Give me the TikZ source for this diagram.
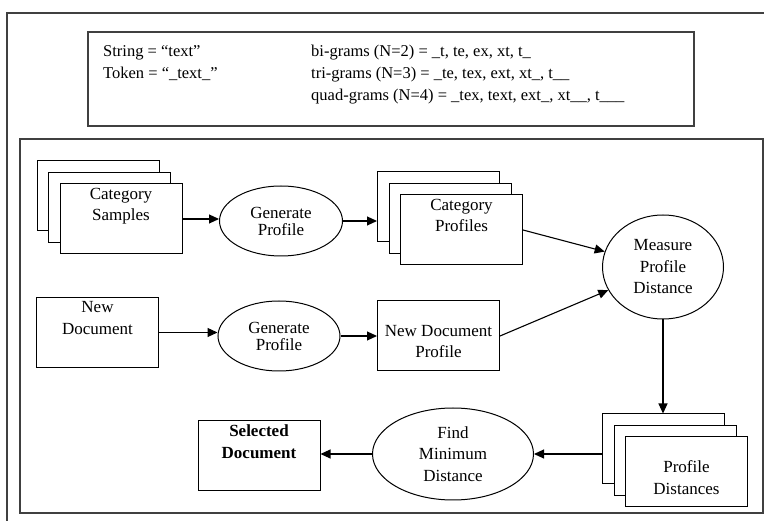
\documentclass[tikz,border=0pt]{standalone}
\usepackage{fontspec}
\setmainfont{Liberation Serif}
\usetikzlibrary{arrows.meta,shapes.geometric}

\begin{document}
\begin{tikzpicture}[x=1pt,y=-1pt,
    every node/.style={font=\rmfamily\fontsize{17}{21.5}\selectfont},
    frame/.style={draw=black!75,line width=1.3pt},
    sheet/.style={draw,fill=white,line width=1pt,minimum width=122pt,minimum height=70pt,inner sep=0pt},
    toptext/.style={execute at begin node={\begin{minipage}[c][62pt][t]{116pt}\centering},
                    execute at end node={\end{minipage}}},
    lowtext/.style={execute at begin node={\begin{minipage}[c][62pt][t]{116pt}\centering\vspace*{20pt}},
                    execute at end node={\end{minipage}}},
    oval/.style={draw,ellipse,line width=1pt,inner sep=0pt,align=center},
    gramtext/.style={anchor=base west,inner sep=0pt,font=\rmfamily\fontsize{16.5}{20}\selectfont},
    arr/.style={-{Triangle[length=10pt,width=9pt]},line width=1.1pt}]
  \clip (0,0) rectangle (764,521);

  % frames
  \draw[frame] (7,13) rectangle (790,540);
  \draw[frame] (88,32) rectangle (694,126);
  \draw[frame] (20,139) rectangle (763,513);

  % n-gram legend
  \node[gramtext] (str) at (103,57) {String = “text”};
  \node[gramtext] (tok) at (103,79) {Token = “\_text\_”};
  \foreach \n/\y/\t in {bi/57/{bi-grams (N=2) = \_t, te, ex, xt, t\_},
                        tri/79/{tri-grams (N=3) = \_te, tex, ext, xt\_, t\_\_},
                        quad/101/{quad-grams (N=4) = \_tex, text, ext\_, xt\_\_, t\_\_\_}}
    \node[gramtext] (\n) at (311,\y) {\t};

  % stacked sheets behind the piles
  \foreach \n/\x/\y in {cs/121/219,cp/461.5/230,pd/686.5/472}
    \foreach \i in {2,1}
      \node[sheet] (\n\i) at (\x-11.5*\i,\y-11.5*\i) {};

  \node[sheet,toptext] (cs) at (121,219) {Category\\Samples};
  \node[sheet,toptext] (cp) at (461.5,230) {Category\\Profiles};
  \node[sheet,toptext] (nd) at (97.5,332.5) {New\\Document};
  \node[sheet,lowtext] (ndp) at (438.5,336) {New Document\\Profile};
  \node[sheet,lowtext] (pd) at (686.5,472) {Profile\\Distances};
  \node[sheet,toptext,font=\rmfamily\fontsize{17}{21.5}\selectfont\bfseries] (sd) at (259,456) {Selected\\Document};

  \node[oval,minimum width=123pt,minimum height=70pt,font=\rmfamily\fontsize{17}{17}\selectfont] (gp1) at (281,221) {Generate\\Profile};
  \node[oval,minimum width=122pt,minimum height=70pt,font=\rmfamily\fontsize{17}{17}\selectfont] (gp2) at (279,336) {Generate\\Profile};
  \node[oval,minimum width=121pt,minimum height=104pt] (mpd) at (663,267) {Measure\\Profile\\Distance};
  \node[oval,minimum width=161pt,minimum height=92pt] (fmd) at (453,454) {Find\\Minimum\\Distance};

  % flow
  \draw[arr] (cs.east) -- (cs.east -| gp1.west);
  \draw[arr] (gp1.east) -- (gp1.east -| cp2.west);
  \draw[arr] (cp.east) -- (mpd);
  \draw[arr] (nd.east) -- (nd.east -| gp2.west);
  \draw[arr] (gp2.east) -- (gp2.east -| ndp.west);
  \draw[arr] (ndp.east) -- (mpd);
  \draw[arr] (mpd.south) -- (mpd.south |- pd2.north);
  \draw[arr] (pd2.west |- fmd) -- (fmd.east);
  \draw[arr] (fmd.west) -- (fmd.west -| sd.east);
\end{tikzpicture}
\end{document}
